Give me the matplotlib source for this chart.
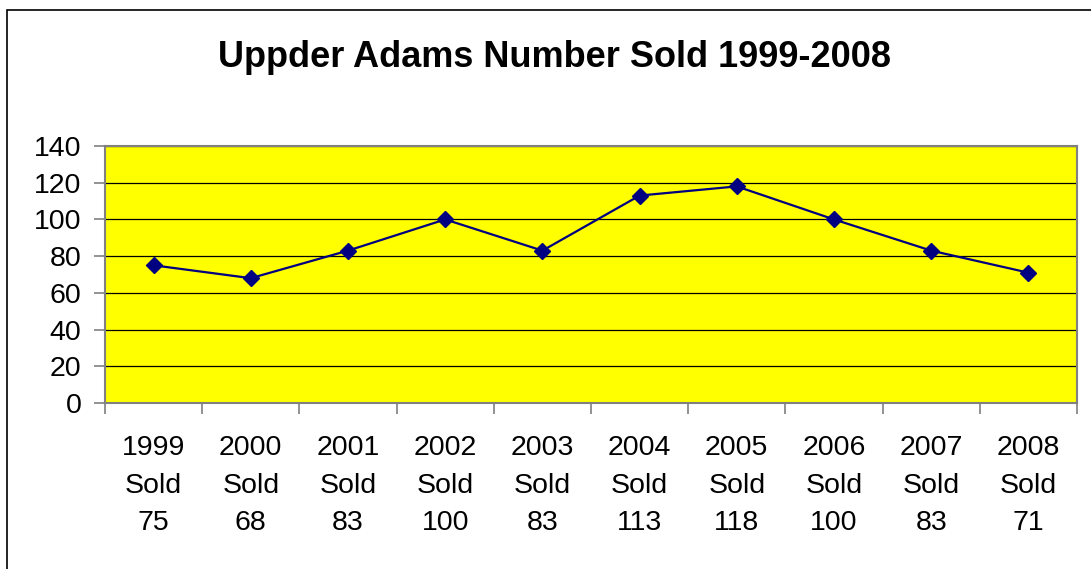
import matplotlib.pyplot as plt
from matplotlib.patches import Rectangle

years = ["1999", "2000", "2001", "2002", "2003", "2004", "2005", "2006", "2007", "2008"]
sold = [75, 68, 83, 100, 83, 113, 118, 100, 83, 71]
y_ticks = [0, 20, 40, 60, 80, 100, 120, 140]

plt.rcParams["font.family"] = ["Liberation Sans", "DejaVu Sans"]

fig = plt.figure(figsize=(10.91, 5.69), dpi=100)
ax = fig.add_axes([105 / 1091, 1 - 403 / 569, 972 / 1091, 257 / 569])

x = list(range(len(years)))
ax.set_facecolor("#FFFF00")
ax.plot(x, sold, color="#000080", linewidth=1.6, marker="D", markersize=8.5, zorder=3)

ax.set_xlim(-0.5, len(years) - 0.5)
ax.set_ylim(0, 140)
ax.set_yticks(y_ticks)
ax.yaxis.grid(True, color="black", linewidth=0.9)
ax.set_axisbelow(True)

ax.set_xticks(x)
ax.set_xticklabels([f"{y}\nSold\n{v}" for y, v in zip(years, sold)], linespacing=1.58)
ax.set_xticks([i - 0.5 for i in range(len(years) + 1)], minor=True)
ax.tick_params(axis="x", which="major", length=0, pad=23, labelsize=20.5)
ax.tick_params(axis="x", which="minor", length=8, width=1.2, color="#808080")
ax.tick_params(axis="y", length=8, width=1.2, color="#808080", labelsize=20.5, pad=9)

for spine in ax.spines.values():
    spine.set_color("#808080")
    spine.set_linewidth(1.5)

fig.text(554 / 1091, 1 - 57 / 569, "Uppder Adams Number Sold 1999-2008",
         ha="center", va="center", fontsize=26, fontweight="bold")

fig.patches.append(Rectangle((7 / 1091, -0.05), 1.2, 1.05 - 10 / 569,
                             transform=fig.transFigure, fill=False,
                             edgecolor="black", linewidth=1.2))

fig.savefig("out.png", dpi=100)
